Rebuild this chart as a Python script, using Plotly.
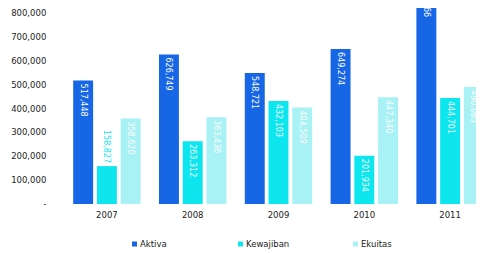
import plotly.graph_objects as go

years = ["2007", "2008", "2009", "2010", "2011"]
aktiva = [517448, 626749, 548721, 649274, 934766]
kewajiban = [158827, 263312, 432103, 201934, 444701]
ekuitas = [358620, 363436, 404509, 447340, 490065]
y_tickvals = [0, 100000, 200000, 300000, 400000, 500000, 600000, 700000, 800000]
y_ticktext = ["-", "100,000", "200,000", "300,000", "400,000", "500,000", "600,000", "700,000", "800,000"]
series_names = ["Aktiva", "Kewajiban", "Ekuitas"]

c_akt = "#1766E6"
c_kew = "#0DE6EE"
c_eku = "#A8F1F5"
FONT = "DejaVu Sans"

# The page body has an 8px margin, so the figure is laid out 8px up/left.
OFF = 8
W, H = 484 - OFF, 254 - OFF
L, R, T, B = 64 - OFF, 0, 0, 50
PW, PH = W - L - R, H - T - B

def fmt(v):
    return f"{v:,}"

fig = go.Figure()
series = [
    (series_names[0], aktiva, c_akt, "white"),
    (series_names[1], kewajiban, c_kew, "#F0FFFF"),
    (series_names[2], ekuitas, c_eku, "white"),
]
for name, vals, col, tcol in series:
    pos = ["inside"] * len(vals)
    if name == "Kewajiban":
        pos[0] = "outside"
    fig.add_trace(go.Bar(
        x=years, y=vals, name=name, marker=dict(color=col, line=dict(width=0)),
        text=[fmt(v) for v in vals], textposition=pos, textangle=90,
        insidetextanchor="end", constraintext="none",
        insidetextfont=dict(color=tcol, size=8, family=FONT),
        outsidetextfont=dict(color=col, size=8, family=FONT),
        cliponaxis=True, showlegend=False,
    ))

# manual legend (small squares close to the labels, as in the reference)
legend_px = [(132, series[0][2]), (238, series[1][2]), (353, series[2][2])]
ly = 244
for (px, col), name in zip(legend_px, series_names):
    fx = px - OFF
    fy = ly - OFF
    fig.add_shape(type="rect", xref="paper", yref="paper",
                  x0=(fx - L) / PW, x1=(fx + 5 - L) / PW,
                  y0=(H - B - (fy + 2.5)) / PH, y1=(H - B - (fy - 2.5)) / PH,
                  fillcolor=col, line=dict(width=0))
    fig.add_annotation(xref="paper", yref="paper", x=(fx + 6 - L) / PW,
                       y=(H - B - fy) / PH, xanchor="left", yanchor="middle",
                       text=name, showarrow=False,
                       font=dict(family=FONT, size=8.5, color="#222"))

fig.update_layout(
    width=W, height=H,
    margin=dict(l=L, r=R, t=T, b=B),
    paper_bgcolor="white", plot_bgcolor="white",
    barmode="group", bargap=0.17, bargroupgap=0.16,
    font=dict(family=FONT, size=8.5, color="#222"),
    showlegend=False,
    xaxis=dict(type="category", range=[-0.5, 4.395], showgrid=False, automargin=False,
               showline=False, zeroline=False, ticks="outside", ticklen=3,
               tickcolor="rgba(0,0,0,0)", tickfont=dict(size=8.5, color="#222")),
    yaxis=dict(range=[0, 821500], tickvals=y_tickvals, ticktext=y_ticktext,
               showgrid=False, zeroline=False, showline=False, automargin=False,
               ticks="outside", ticklen=15, tickcolor="rgba(0,0,0,0)",
               tickfont=dict(size=8.5, color="#222")),
)

fig.write_html("out.html")
